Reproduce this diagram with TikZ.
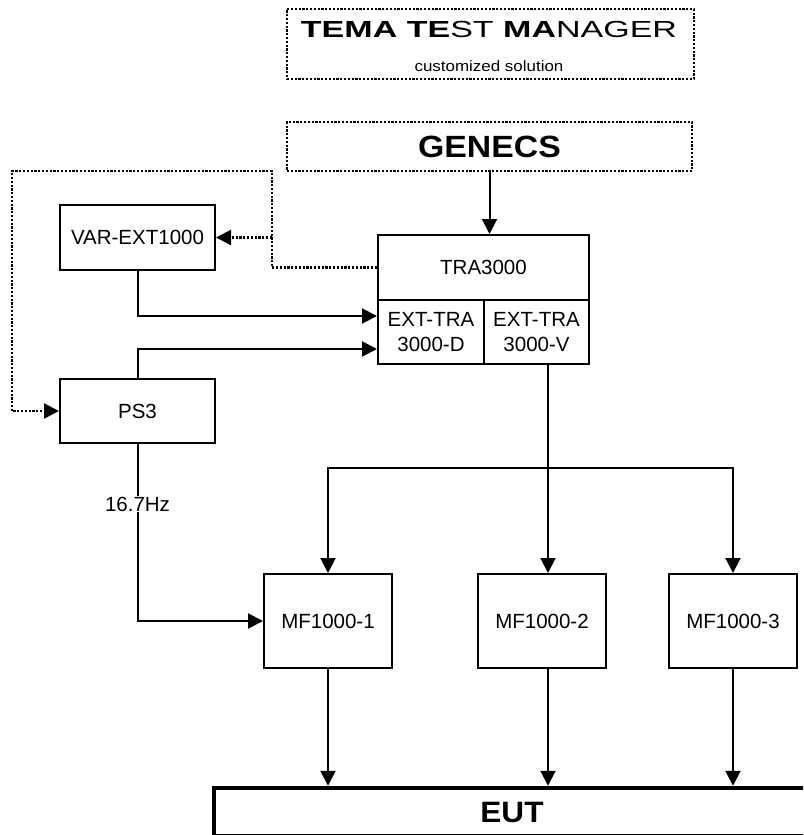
\documentclass[tikz,border=0pt]{standalone}
\usepackage{fontspec}
\setmainfont{Liberation Sans}
\usetikzlibrary{arrows.meta}
\usetikzlibrary{positioning}
\tikzset{blk/.style = {draw, line width=2pt, inner sep=0, align=center,
                       font=\fontsize{20.5}{25}\selectfont}}
\tikzset{dotbox/.style = {draw, line width=2.2pt, dash pattern=on 2.2pt off 1.6pt}}
\tikzset{link/.style = {line width=2pt}}
\tikzset{dots/.style = {line width=2.2pt, dash pattern=on 2.2pt off 1.6pt}}
\tikzset{arr/.style = {-{Triangle[length=15pt, width=15pt]}}}

\begin{document}
\begin{tikzpicture}[x=1pt, y=-1pt]
  \useasboundingbox (0,0) rectangle (803,835);
  \clip (0,0) rectangle (803,835);

  % title
  \node [dotbox, minimum width=407pt, minimum height=70pt] (tmbox) at (490.5,44) {};
  \node [anchor=base, font=\fontsize{23.3}{28}\selectfont] (tmname) at (489,37)
        {\scalebox{1.46}[1]{\textbf{TEMA TE}ST \textbf{MA}NAGER}};
  \node [anchor=base, font=\fontsize{15}{18}\selectfont] (tmsub) at (489,71)
        {\scalebox{1.13}[1]{customized solution}};

  \node [dotbox, minimum width=405pt, minimum height=49pt,
         font=\bfseries\fontsize{30.7}{36}\selectfont] (genecs) at (489.5,146.5)
        {\scalebox{1.1}[1]{GENECS}};

  \node [blk, minimum width=211pt, minimum height=65pt] (tra) at (483.5,267.5) {TRA3000};
  \node [blk, minimum width=106pt, minimum height=64pt] (extd) at (431,332) {EXT-TRA\\3000-D};
  \node [blk, minimum width=105pt, minimum height=64pt] (extv) at (536.5,332) {EXT-TRA\\3000-V};

  \node [blk, minimum width=155pt, minimum height=65pt] (var) at (137.5,237.5) {VAR-EXT1000};
  \node [blk, minimum width=155pt, minimum height=64pt] (ps) at (137.5,411) {PS3};

  \node [blk, minimum width=128pt, minimum height=94pt] (mfa) at (328,621) {MF1000-1};
  \node [blk, minimum width=128pt, minimum height=94pt] (mfb) at (542,621) {MF1000-2};
  \node [blk, minimum width=128pt, minimum height=94pt] (mfc) at (733,621) {MF1000-3};

  \node [draw, line width=4.5pt, minimum width=596pt, minimum height=48.5pt,
         font=\bfseries\fontsize{29.5}{36}\selectfont] (eut) at (512,812.25)
        {\scalebox{1.07}[1]{EUT}};

  \coordinate (dtop) at (272,171);
  \coordinate (dleft) at (12,411);
  \coordinate (split) at (548,468);

  \draw [link, arr] (genecs.south) -- (genecs.south |- tra.north);

  % dotted control lines
  \draw [dots, arr] (tra.west) -| (dtop) -| (dleft) -- (ps.west);
  \draw [dots, arr] (dtop |- var.east) -- (var.east);

  \draw [link, arr] (var.south) |- ([yshift=16pt]extd.west);
  \draw [link, arr] (ps.north) |- ([yshift=-17pt]extd.west);
  \draw [link, arr] (ps.south) |- (mfa.west)
        node [pos=0.17, fill=white, inner sep=1pt, font=\fontsize{20.5}{24}\selectfont] {16.7Hz};

  \draw [link, arr] (extv.south -| split) -- (mfb.north -| split);
  \draw [link, arr] (split) -| (mfa.north);
  \draw [link, arr] (split) -| (mfc.north);

  \draw [link, arr] (mfa.south) -- (mfa.south |- eut.north);
  \draw [link, arr] (mfb.south -| split) -- (split |- eut.north);
  \draw [link, arr] (mfc.south) -- (mfc.south |- eut.north);
\end{tikzpicture}
\end{document}
